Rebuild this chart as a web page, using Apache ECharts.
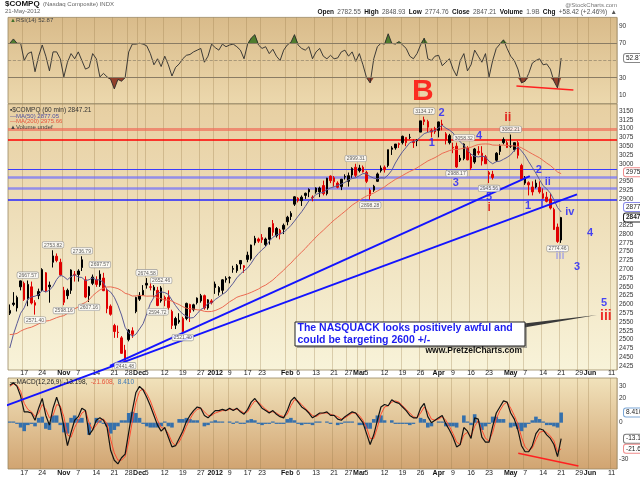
<!DOCTYPE html>
<html>
<head>
<meta charset="utf-8">
<script src="https://cdn.jsdelivr.net/npm/echarts@6.0.0/dist/echarts.min.js"></script>
<style>
html, body { margin: 0; padding: 0; background: #fff; }
#chart { width: 640px; height: 479px; }
</style>
</head>
<body>
<div id="chart"></div>
<script>
// trading calendar (first bar 11-Oct-2011, axis runs on to mid June)
var firstDay = '2011-10-11';
var dayCount = 169;
var holidays = ['2011-11-24', '2011-12-26', '2012-01-02', '2012-01-16', '2012-02-20', '2012-04-06', '2012-05-28'];

var tickDates = ['2011-10-17', '2011-10-24', '2011-11-01', '2011-11-07', '2011-11-14', '2011-11-21', '2011-11-28',
  '2011-12-01', '2011-12-05', '2011-12-12', '2011-12-19', '2011-12-27', '2012-01-03', '2012-01-09', '2012-01-17',
  '2012-01-23', '2012-02-01', '2012-02-06', '2012-02-13', '2012-02-21', '2012-02-27', '2012-03-01', '2012-03-05',
  '2012-03-12', '2012-03-19', '2012-03-26', '2012-04-02', '2012-04-09', '2012-04-16', '2012-04-23', '2012-05-01',
  '2012-05-07', '2012-05-14', '2012-05-21', '2012-05-29', '2012-06-01', '2012-06-11'];
var tickTexts = ['17', '24', 'Nov', '7', '14', '21', '28', 'Dec', '5', '12', '19', '27', '2012', '9', '17', '23',
  'Feb', '6', '13', '21', '27', 'Mar', '5', '12', '19', '26', 'Apr', '9', '16', '23', 'May', '7', '14', '21', '29',
  'Jun', '11'];
var boldTicks = ['Nov', 'Dec', '2012', 'Feb', 'Mar', 'Apr', 'May', 'Jun'];

// price, one bar per session
var opens = [2575,2600,2590,2650,2660,2615,2650,2605,2625,2640,
  2690,2655,2720,2725,2720,2640,2625,2640,2685,2685,
  2705,2670,2650,2660,2670,2655,2675,2640,2595,2540,
  2520,2505,2470,2500,2525,2580,2615,2640,2660,2650,
  2640,2640,2610,2620,2620,2580,2560,2550,2560,2560,
  2600,2585,2605,2610,2625,2590,2610,2658,2635,2640,
  2670,2675,2700,2696,2715,2705,2740,2730,2775,2780,
  2790,2770,2785,2830,2795,2800,2825,2835,2850,2885,
  2895,2895,2910,2920,2905,2920,2920,2938,2915,2965,
  2960,2945,2935,2962,2950,2968,2990,2980,2990,2975,
  2925,2925,2950,2980,2990,2995,3045,3045,3057,3060,
  3060,3075,3060,3065,3090,3125,3120,3090,3100,3095,
  3110,3085,3060,3045,3050,3010,3015,3045,3020,3005,
  3035,3030,3020,2975,2970,3010,3035,3060,3060,3050,
  3040,3060,2995,2945,2940,2920,2945,2920,2915,2905,
  2900,2870,2820,2783];
var highs = [2600,2635,2625,2668,2665,2668,2665,2612,2645,2703,
  2692,2665,2754,2745,2730,2650,2645,2700,2695,2700,
  2737,2680,2652,2685,2680,2697,2690,2645,2600,2545,
  2540,2510,2485,2530,2535,2622,2635,2655,2675,2660,
  2655,2650,2652,2625,2640,2585,2565,2575,2565,2605,
  2602,2602,2620,2630,2628,2615,2615,2665,2652,2672,
  2680,2680,2710,2715,2725,2712,2750,2770,2795,2790,
  2800,2790,2820,2840,2820,2815,2830,2852,2865,2908,
  2905,2910,2918,2930,2910,2933,2935,2952,2960,2967,
  2965,2950,2957,2970,2975,2990,3000,2997,2995,2980,
  2930,2940,2975,2995,2995,3040,3050,3056,3060,3080,
  3075,3085,3070,3070,3122,3134,3125,3100,3105,3120,
  3125,3090,3085,3060,3060,3025,3058,3050,3030,3045,
  3050,3050,3025,2980,2980,3033,3055,3075,3065,3083,
  3060,3065,3000,2965,2950,2950,2955,2950,2930,2920,
  2915,2875,2830,2849];
var lows = [2570,2595,2580,2640,2610,2595,2600,2571,2615,2638,
  2635,2605,2705,2720,2680,2598,2615,2630,2665,2665,
  2695,2618,2607,2655,2650,2650,2638,2575,2568,2505,
  2505,2460,2441,2495,2505,2575,2610,2625,2645,2640,
  2620,2595,2605,2595,2585,2530,2530,2545,2521,2555,
  2550,2580,2600,2605,2585,2585,2600,2630,2625,2630,
  2662,2660,2690,2690,2700,2690,2720,2725,2768,2775,
  2775,2765,2770,2795,2790,2785,2800,2825,2840,2880,
  2890,2880,2900,2905,2893,2915,2905,2910,2910,2945,
  2935,2930,2925,2955,2935,2960,2962,2975,2975,2945,
  2898,2920,2948,2975,2975,2990,3025,3040,3045,3055,
  3050,3070,3045,3050,3090,3110,3090,3075,3085,3075,
  3095,3055,3055,3030,2988,3005,3010,3010,2982,3000,
  3025,2995,3000,2945,2955,3005,3025,3055,3045,3045,
  3035,3015,2955,2940,2910,2910,2930,2915,2900,2890,
  2870,2812,2775,2775];
var closes = [2583,2604,2620,2667,2614,2657,2604,2598,2637,2699,
  2638,2650,2738,2737,2684,2606,2640,2698,2686,2695,
  2727,2621,2625,2678,2657,2686,2639,2588,2572,2523,
  2521,2461,2441,2527,2515,2620,2626,2627,2655,2649,
  2649,2597,2647,2612,2591,2540,2541,2555,2523,2603,
  2577,2599,2618,2625,2590,2613,2605,2648,2648,2670,
  2674,2676,2702,2711,2725,2710,2728,2769,2788,2786,
  2784,2786,2818,2805,2816,2811,2814,2848,2859,2906,
  2902,2905,2916,2927,2904,2931,2931,2915,2959,2952,
  2949,2933,2956,2964,2966,2987,2967,2988,2977,2950,
  2910,2936,2971,2988,2983,3040,3041,3056,3055,3078,
  3075,3075,3063,3067,3122,3120,3104,3095,3091,3119,
  3113,3068,3080,3047,2991,3016,3056,3011,2988,3042,
  3031,3008,3000,2970,2961,3030,3051,3069,3046,3050,
  3060,3024,2956,2957,2946,2934,2934,2933,2902,2893,
  2874,2813,2779,2847];
// closes before the first bar, only feed the averages
var priorCloses = [2579,2546,2480,2474,2549,2529,2467,2496,2532,2572,2607,2622,2612,2590,
  2538,2456,2483,2517,2546,2491,2481,2415,2335,2404,2460,2506,2479,2566];

var rsi = [70,75,70,70,50,58,60,37,55,68,
  55,38,60,60,52,31,48,58,52,60,
  50,40,42,58,52,31,35,31,28,17,
  28,26,30,60,69,69,70,69,67,58,
  45,52,43,55,45,32,42,46,52,56,
  57,60,62,64,48,55,69,65,62,69,
  66,68,69,66,62,52,69,76,80,68,
  64,66,58,63,55,50,62,68,71,80,
  68,64,62,66,52,60,64,55,52,56,
  52,53,60,62,55,60,49,58,45,30,
  24,52,66,70,69,81,70,69,72,68,
  64,55,52,58,68,76,52,50,55,56,
  44,48,52,40,32,50,58,38,45,62,
  55,48,58,31,50,64,69,74,64,55,
  50,40,24,26,35,47,50,52,45,46,
  40,26,18,52.87];

var macd = [31,33,30,22,9,9,8,2,12,20,
  6,-2,12,21,12,-3,-19,-8,2,5,
  12,10,-10,-6,2,4,2,-4,-23,-31,
  -34,-29,-26,-8,10,25,30,27,21,14,
  6,-2,-7,-4,-12,-20,-19,-13,-7,1,
  6,10,13,12,6,4,7,10,10,11,
  10,12,10,12,9,7,11,17,20,16,
  12,10,8,10,7,5,4,10,18,21,
  17,13,11,8,4,6,8,8,9,6,
  6,3,2,5,7,9,8,4,0,-9,
  -18,-10,2,13,15,14,19,17,16,13,
  10,6,4,4,12,16,5,0,2,4,
  6,-1,-6,-12,-20,-18,-4,-7,-13,4,
  3,-12,-16,-16,-3,8,13,18,17,8,
  3,-6,-19,-24,-24,-19,-9,-5,-6,-10,
  -13,-18,-28,-13.198];
var signal = [30,32,31,26,16,11,9,5,8,15,
  11,4,6,15,14,5,-10,-12,-4,2,
  8,10,0,-6,-2,2,3,-1,-14,-25,
  -31,-31,-28,-16,1,17,26,28,24,18,
  10,2,-4,-5,-9,-16,-19,-16,-10,-3,
  3,8,11,12,9,6,6,8,9,10,
  10,11,11,11,10,8,9,14,18,17,
  14,11,9,9,8,6,5,7,14,19,
  18,15,12,9,6,5,7,8,8,7,
  6,5,3,4,6,8,8,6,2,-4,
  -13,-13,-4,7,13,14,17,18,17,14,
  11,8,5,4,8,13,9,3,2,3,
  5,2,-3,-9,-16,-18,-10,-8,-11,-3,
  2,-6,-13,-15,-8,3,10,15,17,12,
  6,-1,-12,-20,-23,-21,-14,-8,-7,-8,
  -11,-15,-24,-21.608];

// axis labels
var priceTicks = [3150,3125,3100,3075,3050,3025,3000,2950,2925,2900,2825,2800,2775,2750,2725,
  2700,2675,2650,2625,2600,2575,2550,2525,2500,2475,2450,2425];
var rsiTicks = [90, 70, 30, 10];
var macdTicks = [30, 20, 0, -30];

// drawn-in annotations (bar index, value)
var levelPrices = [3099, 3067, 2983, 2962, 2929, 2897];
var trendLow = [[-2.72, 2306], [157.4, 2913]];
var trendHigh = [[27.8, 2425.5], [144.3, 2965]];
var rsiTrend = [[140.6, 20.4], [156.4, 15.8]];
var macdTrend = [[141.1, -25.3], [157.8, -35.8]];

var pivotIdx = [5,12,7,15,20,22,25,32,38,42,41,48,96,100,115,126,124,133,139,152];
var pivotVal = [2667.57,2753.82,2571.40,2598.16,2736.79,2607.16,2697.57,2441.48,2674.58,2652.46,
  2594.72,2521.40,2999.31,2898.28,3134.17,3058.32,2988.17,2945.56,3082.21,2774.46];
var pivotAbove = [1,1,0,0,1,0,1,0,1,1,0,0,1,0,1,1,0,0,1,0];

var waveText = ['B','2','1','ii','4','3','5','i','2','ii','1','i','iv','iii','4','3','5','iii'];
var waveIdx = [114.6,119.8,117.1,138.2,130.2,123.8,133,133,146.8,149.3,143.8,147.7,155.4,152.7,161,157.4,164.9,165.4];
var wavePrice = [3204,3145,3058,3133,3079,2945,2905,2874,2982,2948,2880,2886,2863,2738,2803,2707,2604,2567];

// styles
var FONT = '"Liberation Sans", Arial, sans-serif';
var BLUE = '#1c1cff';
var NONE = 'rgba(0,0,0,0)';
var levelStyles = [
  { color: 'rgba(240,110,90,0.7)', width: 3 },
  { color: '#ff0000', width: 1.5 },
  { color: '#3c3cff', width: 1.2 },
  { color: 'rgba(110,110,255,0.7)', width: 2.5 },
  { color: 'rgba(110,110,255,0.7)', width: 2.5 },
  { color: '#2424ff', width: 1.5 }
];
var waveStyles = [
  { color: '#ff0000', size: 30 }, { color: BLUE, size: 11 }, { color: BLUE, size: 11 },
  { color: '#e00000', size: 13 }, { color: BLUE, size: 11 }, { color: BLUE, size: 11 },
  { color: BLUE, size: 11 }, { color: '#e00000', size: 12 }, { color: BLUE, size: 11 },
  { color: BLUE, size: 11 }, { color: BLUE, size: 11 }, { color: BLUE, size: 11 },
  { color: BLUE, size: 11 }, { color: '#9a9ae6', size: 11 }, { color: BLUE, size: 11 },
  { color: BLUE, size: 11 }, { color: BLUE, size: 11 }, { color: '#ee0000', size: 14 }
];

function tradingDays() {
  var out = [];
  var d = new Date(firstDay + 'T00:00:00Z');
  while (out.length < dayCount) {
    var s = d.toISOString().slice(0, 10);
    var wd = d.getUTCDay();
    if (wd !== 0 && wd !== 6 && holidays.indexOf(s) < 0) out.push(s);
    d.setUTCDate(d.getUTCDate() + 1);
  }
  return out;
}

function movingAvg(n) {
  var all = priorCloses.concat(closes);
  var out = [];
  for (var i = 0; i < closes.length; i++) {
    var k = i + priorCloses.length, s = 0;
    for (var j = k - n + 1; j <= k; j++) s += all[j];
    out.push(+(s / n).toFixed(2));
  }
  return out;
}

var days = tradingDays();
var tickMap = {};
tickDates.forEach(function (d, i) { tickMap[d] = tickTexts[i]; });
function isTick(idx, val) { return tickMap[val] !== undefined; }

var candles = closes.map(function (c, i) {
  var up = i === 0 ? c >= opens[i] : c >= closes[i - 1];
  var col = up ? '#000' : '#e00000';
  return { value: [opens[i], c, lows[i], highs[i]],
    itemStyle: { color: col, color0: col, borderColor: col, borderColor0: col } };
});
var ma50 = movingAvg(7);
var ma200 = movingAvg(29);
var hist = macd.map(function (v, i) { return +(v - signal[i]).toFixed(3); });

function vGrad(a, b) {
  return { type: 'linear', x: 0, y: 0, x2: 0, y2: 1, colorStops: [{ offset: 0, color: a }, { offset: 1, color: b }] };
}

function catAxis(grid, showLabels, margin) {
  return {
    type: 'category', gridIndex: grid, data: days, boundaryGap: true,
    axisLine: { show: false }, axisTick: { show: false },
    splitLine: { show: true, interval: isTick, lineStyle: { color: 'rgba(150,120,70,0.3)', width: 1 } },
    axisLabel: {
      show: showLabels, interval: isTick, margin: margin, fontSize: 7, color: '#222', fontFamily: FONT,
      formatter: function (v) {
        var t = tickMap[v];
        if (t === undefined) return '';
        return boldTicks.indexOf(t) >= 0 ? '{b|' + t + '}' : t;
      },
      rich: { b: { fontWeight: 'bold', fontSize: 7, color: '#111', fontFamily: FONT } }
    }
  };
}
function valAxis(grid) {
  return { type: 'value', gridIndex: grid, min: -0.5, max: dayCount - 0.5, show: false };
}
function rightAxis(grid, min, max, ticks) {
  return {
    type: 'value', gridIndex: grid, position: 'right', min: min, max: max, scale: true,
    axisLine: { show: false }, axisTick: { show: false }, splitLine: { show: false },
    axisLabel: { customValues: ticks, margin: 2, fontSize: 6.5, color: '#333', fontFamily: FONT,
      formatter: function (v) { return String(v); } }
  };
}
function valueBox(v, text, border, bold) {
  return {
    yAxis: v, lineStyle: { color: NONE, width: 0 },
    label: { show: true, position: 'end', distance: 7, formatter: text, fontSize: 6.5,
      fontWeight: bold ? 'bold' : 'normal', color: '#222', fontFamily: FONT, backgroundColor: '#fff',
      borderColor: border, borderWidth: 1, borderRadius: 2, padding: [1, 2, 0, 2] }
  };
}

var levelLines = levelPrices.map(function (p, i) {
  return { yAxis: p, lineStyle: { color: levelStyles[i].color, width: levelStyles[i].width, type: 'solid' },
    label: { show: false } };
});

var pivots = pivotIdx.map(function (idx, i) {
  return { value: [idx, pivotVal[i]], label: { position: pivotAbove[i] ? 'top' : 'bottom' } };
});
var waves = waveText.map(function (t, i) {
  return { value: [waveIdx[i], wavePrice[i]],
    label: { formatter: t, color: waveStyles[i].color, fontSize: waveStyles[i].size } };
});

var option = {
  animation: false,
  backgroundColor: '#fff',
  textStyle: { fontFamily: FONT },
  grid: [
    { left: 8, right: 23, top: 17.4, height: 86.2, show: true, backgroundColor: vGrad('#d9bb8a', '#ecd8ad'),
      borderColor: '#9a8862', borderWidth: 0.8 },
    { left: 8, right: 23, top: 104, height: 266, show: true, backgroundColor: vGrad('#e7cfa2', '#f8f3d9'),
      borderColor: '#9a8862', borderWidth: 0.8 },
    { left: 8, right: 23, top: 378, height: 91, show: true, backgroundColor: vGrad('#f1e2bb', '#d1a471'),
      borderColor: '#9a8862', borderWidth: 0.8 }
  ],
  xAxis: [catAxis(0, false, 0), catAxis(1, true, 0), catAxis(2, true, 1), valAxis(0), valAxis(1), valAxis(2)],
  yAxis: [
    rightAxis(0, 0, 100, rsiTicks),
    rightAxis(1, 2413.6, 3169.9, priceTicks),
    rightAxis(2, -38.26, 36.94, macdTicks)
  ],
  graphic: [
    { type: 'text', x: 5, y: 4, z: 100, style: { text: '{t|$COMPQ} {s|(Nasdaq Composite) INDX}', verticalAlign: 'middle',
      rich: { t: { fontSize: 8, fontWeight: 'bold', fill: '#111', fontFamily: FONT },
              s: { fontSize: 6, fill: '#666', fontFamily: FONT } } } },
    { type: 'text', x: 5, y: 11.5, z: 100, style: { text: '21-May-2012', fontSize: 6, fill: '#666', fontFamily: FONT,
      verticalAlign: 'middle' } },
    { type: 'text', x: 617, y: 5, z: 100, style: { text: '@StockCharts.com', fontSize: 6, fill: '#777', fontFamily: FONT,
      align: 'right', verticalAlign: 'middle' } },
    { type: 'text', x: 617, y: 12.3, z: 100, style: {
      text: '{b|Open} {v|2782.55} {b|High} {v|2848.93} {b|Low} {v|2774.76} {b|Close} {v|2847.21} {b|Volume} {v|1.9B} {b|Chg} {v|+58.42 (+2.46%)} {v|\u25B2}',
      align: 'right', verticalAlign: 'middle',
      rich: { b: { fontSize: 6.5, fontWeight: 'bold', fill: '#111', fontFamily: FONT },
              v: { fontSize: 6.5, fill: '#555', fontFamily: FONT } } } },
    { type: 'text', x: 10, y: 20, z: 100, style: { text: '{g|\u25B2}{t|RSI(14) 52.87}', verticalAlign: 'middle',
      rich: { g: { fontSize: 6, fill: '#3f6f2a', fontFamily: FONT }, t: { fontSize: 6, fill: '#444', fontFamily: FONT } } } },
    { type: 'text', x: 10, y: 110.5, z: 100, style: { text: '\u25AA$COMPQ (60 min) 2847.21', fontSize: 6.5, fill: '#333',
      fontFamily: FONT, verticalAlign: 'middle' } },
    { type: 'text', x: 10, y: 116, z: 100, style: { text: '\u2014MA(50) 2877.05', fontSize: 6, fill: '#5050a0',
      fontFamily: FONT, verticalAlign: 'middle' } },
    { type: 'text', x: 10, y: 121.5, z: 100, style: { text: '\u2014MA(200) 2975.66', fontSize: 6, fill: '#e8553c',
      fontFamily: FONT, verticalAlign: 'middle' } },
    { type: 'text', x: 10, y: 127, z: 100, style: { text: '\u25B2Volume undef', fontSize: 6, fill: '#444',
      fontFamily: FONT, verticalAlign: 'middle' } },
    { type: 'text', x: 10, y: 382, z: 100, style: {
      text: '{k|\u2014MACD(12,26,9) -13.198,} {r|-21.608,} {u|8.410}', verticalAlign: 'middle',
      rich: { k: { fontSize: 6.5, fill: '#222', fontFamily: FONT }, r: { fontSize: 6.5, fill: '#e8553c', fontFamily: FONT },
              u: { fontSize: 6.5, fill: '#3b78b8', fontFamily: FONT } } } },
    { type: 'polygon', z: 100, shape: { points: [[524, 323.5], [597, 315], [524, 327.5]] }, style: { fill: '#3a3a3a' } },
    { type: 'rect', z: 100, shape: { x: 297, y: 324, width: 230, height: 24 }, style: { fill: 'rgba(90,90,90,0.5)' } },
    { type: 'rect', z: 100, shape: { x: 295, y: 322, width: 230, height: 24 }, style: { fill: '#fff', stroke: '#222', lineWidth: 1 } },
    { type: 'text', x: 297.5, y: 328.5, z: 101, style: { text: 'The NASQUACK looks positively awful and',
      fontSize: 10.5, fontWeight: 'bold', fill: '#1c1cf0', fontFamily: FONT, verticalAlign: 'middle' } },
    { type: 'text', x: 297.5, y: 340, z: 101, style: { text: 'could be targeting 2600 +/-',
      fontSize: 10.5, fontWeight: 'bold', fill: '#1c1cf0', fontFamily: FONT, verticalAlign: 'middle' } },
    { type: 'text', x: 522, y: 350.5, z: 101, style: { text: 'www.PretzelCharts.com', fontSize: 8.5, fontWeight: 'bold',
      fill: '#111', fontFamily: FONT, align: 'right', verticalAlign: 'middle' } }
  ],
  series: [
    // RSI panel
    { type: 'line', xAxisIndex: 0, yAxisIndex: 0, stack: 'ob', data: rsi.map(function () { return 70; }),
      symbol: 'none', lineStyle: { width: 0 }, silent: true, z: 1 },
    { type: 'line', xAxisIndex: 0, yAxisIndex: 0, stack: 'ob', data: rsi.map(function (v) { return Math.max(0, v - 70); }),
      symbol: 'none', lineStyle: { width: 0 }, areaStyle: { color: '#4f7d2e', opacity: 1 }, silent: true, z: 1 },
    { type: 'line', xAxisIndex: 0, yAxisIndex: 0, stack: 'os', data: rsi.map(function (v) { return Math.min(v, 30); }),
      symbol: 'none', lineStyle: { width: 0 }, silent: true, z: 1 },
    { type: 'line', xAxisIndex: 0, yAxisIndex: 0, stack: 'os', data: rsi.map(function (v) { return 30 - Math.min(v, 30); }),
      symbol: 'none', lineStyle: { width: 0 }, areaStyle: { color: '#92402c', opacity: 1 }, silent: true, z: 1 },
    { type: 'line', name: 'RSI(14)', xAxisIndex: 0, yAxisIndex: 0, data: rsi, symbol: 'none',
      lineStyle: { color: '#2a2a2a', width: 0.9 }, z: 3,
      markLine: { silent: true, symbol: ['none', 'none'], animation: false, data: [
        { yAxis: 70, lineStyle: { color: '#8a7c64', width: 1, type: 'solid' }, label: { show: false } },
        { yAxis: 50, lineStyle: { color: '#9a8c70', width: 0.8, type: 'dashed' }, label: { show: false } },
        { yAxis: 30, lineStyle: { color: '#8a7c64', width: 1, type: 'solid' }, label: { show: false } },
        valueBox(52.87, '52.87', '#888', false)
      ] } },
    { type: 'line', xAxisIndex: 3, yAxisIndex: 0, data: rsiTrend, symbol: 'none', clip: false,
      lineStyle: { color: '#ff2020', width: 1.6 }, z: 6 },

    // price panel
    { type: 'candlestick', name: '$COMPQ', xAxisIndex: 1, yAxisIndex: 1, data: candles, barWidth: 2, z: 3,
      markLine: { silent: true, symbol: ['none', 'none'], animation: false, z: 2,
        data: levelLines.concat([
          valueBox(2975.66, '2975.66', '#f08a8a', false),
          valueBox(2877.05, '2877.05', '#8a8ae8', false),
          valueBox(2847.21, '2847.21', '#222', true)
        ]) } },
    { type: 'line', name: 'MA(50)', xAxisIndex: 1, yAxisIndex: 1, data: ma50, symbol: 'none',
      lineStyle: { color: '#5a5a96', width: 1 }, z: 4 },
    { type: 'line', name: 'MA(200)', xAxisIndex: 1, yAxisIndex: 1, data: ma200, symbol: 'none',
      lineStyle: { color: '#ec6a52', width: 1 }, z: 4 },
    { type: 'line', xAxisIndex: 4, yAxisIndex: 1, data: trendLow, symbol: 'none', clip: false,
      lineStyle: { color: '#1414ff', width: 2 }, z: 8 },
    { type: 'line', xAxisIndex: 4, yAxisIndex: 1, data: trendHigh, symbol: 'none', clip: false,
      lineStyle: { color: '#1414ff', width: 2 }, z: 8 },
    { type: 'scatter', xAxisIndex: 4, yAxisIndex: 1, data: pivots, symbolSize: 1, clip: false,
      itemStyle: { color: NONE }, z: 9,
      label: { show: true, distance: 2, formatter: function (p) { return p.value[1].toFixed(2); },
        fontSize: 5, color: '#333', fontFamily: FONT, backgroundColor: '#fff', borderColor: '#8a8a8a',
        borderWidth: 0.6, borderRadius: 1.5, padding: [1, 1.5, 0, 1.5], textBorderWidth: 0 } },
    { type: 'scatter', xAxisIndex: 4, yAxisIndex: 1, data: waves, symbolSize: 1, clip: false,
      itemStyle: { color: NONE }, z: 9,
      label: { show: true, position: 'inside', fontFamily: FONT, fontWeight: 'bold',
        textBorderWidth: 0, textBorderColor: NONE, textShadowBlur: 0 } },

    // MACD panel
    { type: 'bar', name: 'Histogram', xAxisIndex: 2, yAxisIndex: 2, data: hist, barCategoryGap: '0%',
      itemStyle: { color: '#3570ac' }, z: 2,
      markLine: { silent: true, symbol: ['none', 'none'], animation: false, data: [
        valueBox(8.41, '8.410', '#7aa6d6', false),
        valueBox(-13.198, '-13.198', '#777', false),
        valueBox(-21.608, '-21.608', '#f08a8a', false)
      ] } },
    { type: 'line', name: 'Signal', xAxisIndex: 2, yAxisIndex: 2, data: signal, symbol: 'none',
      lineStyle: { color: '#ff4a30', width: 1 }, z: 3 },
    { type: 'line', name: 'MACD', xAxisIndex: 2, yAxisIndex: 2, data: macd, symbol: 'none',
      lineStyle: { color: '#111', width: 1.2 }, z: 4 },
    { type: 'line', xAxisIndex: 5, yAxisIndex: 2, data: macdTrend, symbol: 'none', clip: false,
      lineStyle: { color: '#ff2020', width: 1.6 }, z: 6 }
  ]
};

var myChart = echarts.init(document.getElementById('chart'));
myChart.setOption(option);
</script>
</body>
</html>
